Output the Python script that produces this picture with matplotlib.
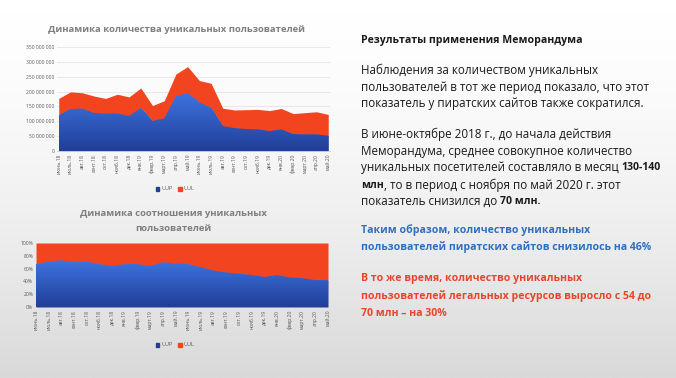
import matplotlib.pyplot as plt
import numpy as np
from matplotlib.colors import LinearSegmentedColormap
from matplotlib.patches import Patch

months = ["июнь.18", "июль.18", "авг.18", "сент.18", "окт.18", "нояб.18", "дек.18",
          "янв.19", "февр.19", "март.19", "апр.19", "май.19", "июнь.19", "июль.19",
          "авг.19", "сент.19", "окт.19", "нояб.19", "дек.19", "янв.20", "февр.20",
          "март.20", "апр.20", "май.20"]
# unique users, millions
uup = [120, 141, 143, 128, 126, 126, 118, 145, 101, 110, 184, 195,
       164, 145, 84, 77, 74, 73, 67, 73, 57, 56, 56, 52]
uul = [57, 58, 53, 57, 51, 65, 64, 67, 52, 59, 75, 89,
       73, 83, 60, 61, 65, 67, 69, 70, 69, 73, 76, 71]
# share of UUP, %
uup_share = [67, 71, 73, 70, 71, 67, 64, 67, 67, 64, 70, 68,
             67, 62, 57, 54, 52, 50, 47, 50, 46, 45, 42, 42]

W, H = 676, 378
BLUE_TOP, BLUE_BOT = "#3d74e0", "#213e98"
RED = "#f2441f"
GRAY = "#7f7f7f"

plt.rcParams['font.family'] = ['Open Sans', 'DejaVu Sans']

fig = plt.figure(figsize=(W / 100, H / 100), dpi=100)


def box(x0, y0, x1, y1):
    # pixel box (top-left origin) -> figure fraction
    return [x0 / W, 1 - y1 / H, (x1 - x0) / W, (y1 - y0) / H]


# slide background
bg = fig.add_axes([0, 0, 1, 1], zorder=-10)
g = np.linspace(0, 1, 256).reshape(-1, 1) ** 1.6
bg.imshow(g, cmap=LinearSegmentedColormap.from_list("bg", ["#ffffff", "#d9d9d9"]),
          aspect="auto", extent=[0, 1, 0, 1], origin="upper")
bg.axis("off")


def gradient_area(ax, x, lo, hi):
    poly = ax.fill_between(x, lo, hi, color=BLUE_BOT, lw=0, zorder=2)
    cmap = LinearSegmentedColormap.from_list("b", [BLUE_BOT, BLUE_TOP])
    grad = np.linspace(0, 1, 256).reshape(-1, 1)
    im = ax.imshow(grad, extent=[x[0], x[-1], 0, max(hi)], origin="lower",
                   aspect="auto", cmap=cmap, zorder=2)
    im.set_clip_path(poly.get_paths()[0], ax.transData)


x = np.arange(len(months))

# ---- top chart: absolute numbers ----
ax1 = fig.add_axes(box(57, 47, 330, 151))
ax1.patch.set_alpha(0)
total = np.array(uup) + np.array(uul)
ax1.fill_between(x, uup, total, color=RED, lw=0, zorder=2)
gradient_area(ax1, x, 0, uup)
ax1.set_xlim(-0.15, len(months) - 0.85)
ax1.set_ylim(0, 350)
ax1.set_yticks(range(0, 351, 50))
ax1.set_yticklabels([f"{v * 1000000:,}".replace(",", " ") for v in range(0, 351, 50)])
ax1.grid(axis="y", color="#e4e4e4", lw=0.6, zorder=0)
ax1.set_xticks(x)
ax1.set_xticklabels(months, rotation=90)
ax1.tick_params(axis="both", length=0, labelsize=3.6, labelcolor="#595959", pad=2)
for s in ax1.spines.values():
    s.set_visible(False)
ax1.spines["bottom"].set_visible(True)
ax1.spines["bottom"].set_color("#d0d0d0")
ax1.spines["bottom"].set_linewidth(0.6)
fig.text(176 / W, 1 - 30 / H, "Динамика количества уникальных пользователей",
         ha="center", va="center", fontsize=6.8, fontweight="bold", color=GRAY)

# ---- bottom chart: shares ----
ax2 = fig.add_axes(box(36, 243, 328, 307))
ax2.patch.set_alpha(0)
ax2.fill_between(x, uup_share, 100, color=RED, lw=0, zorder=2)
gradient_area(ax2, x, 0, uup_share)
ax2.set_xlim(0, len(months) - 1)
ax2.set_ylim(0, 100)
ax2.set_yticks(range(0, 101, 20))
ax2.set_yticklabels([f"{v}%" for v in range(0, 101, 20)])
ax2.set_xticks(x)
ax2.set_xticklabels(months, rotation=90)
ax2.tick_params(axis="both", length=0, labelsize=3.6, labelcolor="#595959", pad=2)
for s in ax2.spines.values():
    s.set_visible(False)
fig.text(173 / W, 1 - 221 / H, "Динамика соотношения уникальных\nпользователей",
         ha="center", va="center", fontsize=6.8, fontweight="bold", color=GRAY,
         linespacing=1.75)

handles = [Patch(color=BLUE_BOT, label="UUP"), Patch(color=RED, label="UUL")]
for ly in (189, 345):
    fig.legend(handles=handles, loc="center", bbox_to_anchor=(175 / W, 1 - ly / H),
               ncol=2, frameon=False, fontsize=4, handlelength=0.7, handleheight=0.7,
               handletextpad=0.3, columnspacing=1.0, labelcolor="#595959")

# ---- right-hand text ----
renderer = fig.canvas.get_renderer()
TX = 361
DARK = "#1a1a1a"
TBLUE = "#2f6fc2"
TRED = "#e8442b"
FS = 8.4     # regular
FSB = 7.6    # bold (Open Sans bold runs wider than the slide font)


def line(y, parts, color=DARK):
    xpos = TX / W
    for s, bold in parts:
        t = fig.text(xpos, 1 - y / H, s, fontsize=FSB if bold else FS, color=color,
                     va="center", fontweight="bold" if bold else "normal")
        xpos += t.get_window_extent(renderer).width / W


line(40, [("Результаты применения Меморандума", True)])
line(70, [("Наблюдения за количеством уникальных", False)])
line(87, [("пользователей в тот же период показало, что этот", False)])
line(104, [("показатель у пиратских сайтов также сократился.", False)])
line(134, [("В июне-октябре 2018 г., до начала действия", False)])
line(151, [("Меморандума, среднее совокупное количество", False)])
line(168, [("уникальных посетителей составляло в месяц ", False), ("130-140", True)])
line(185, [("млн", True), (", то в период с ноября по май 2020 г. этот", False)])
line(201, [("показатель снизился до ", False), ("70 млн.", True)])
line(230, [("Таким образом, количество уникальных", True)], TBLUE)
line(247, [("пользователей пиратских сайтов снизилось на 46%", True)], TBLUE)
line(279, [("В то же время, количество уникальных", True)], TRED)
line(296, [("пользователей легальных ресурсов выросло с 54 до", True)], TRED)
line(313, [("70 млн – на 30%", True)], TRED)

fig.savefig("out.png", dpi=100)
